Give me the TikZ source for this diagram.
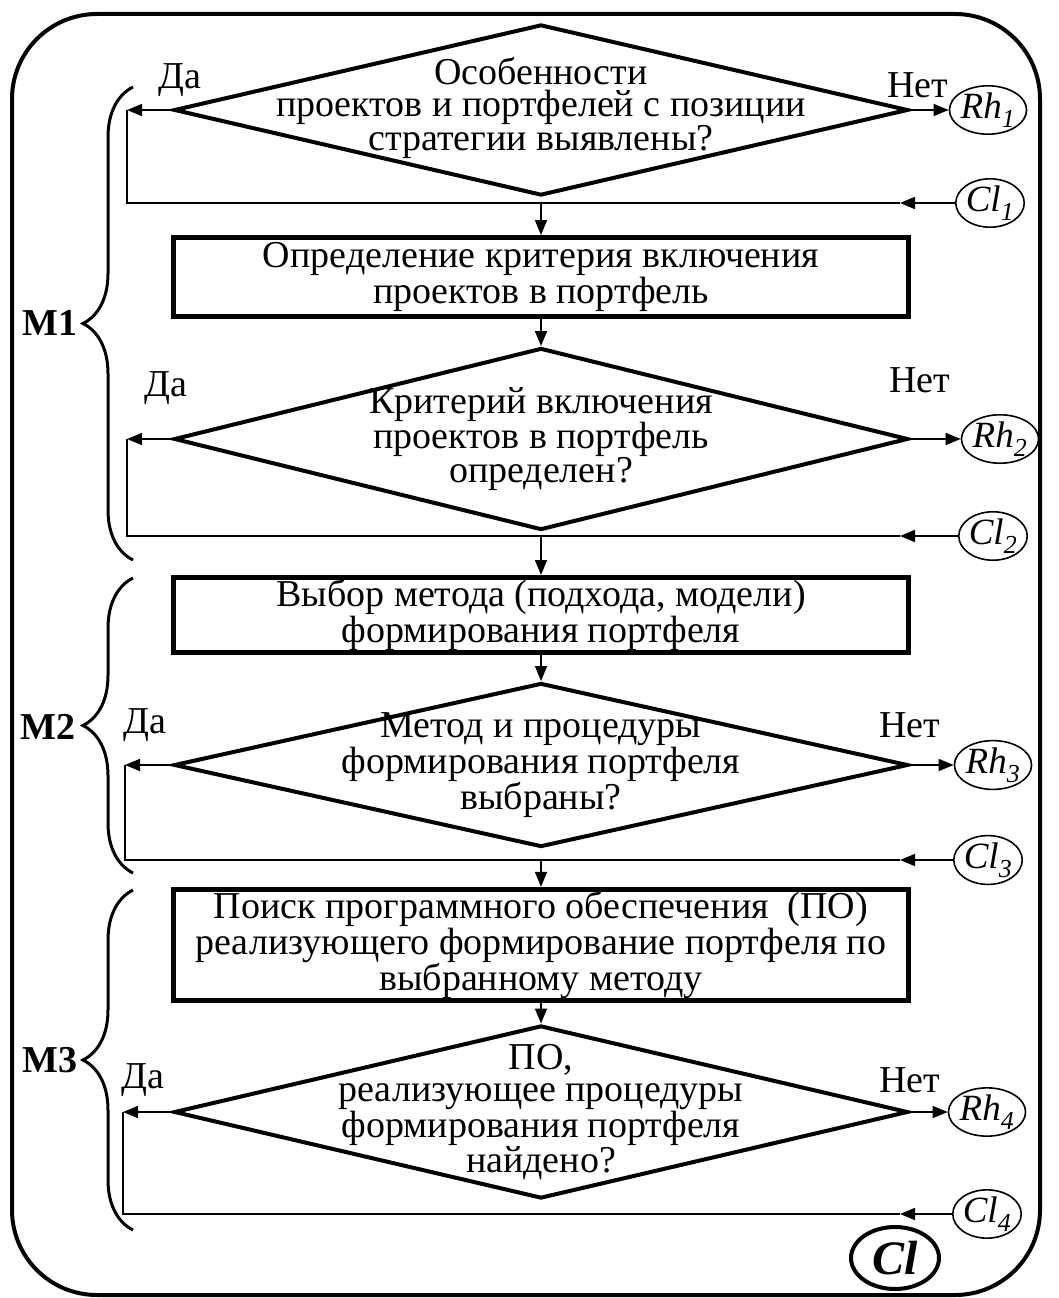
\documentclass[tikz,border=0pt]{standalone}
\usepackage{fontspec}
\setmainfont{Liberation Serif}
\usetikzlibrary{arrows.meta, shapes.geometric, decorations.pathreplacing}
\newcommand\bigfont{\fontsize{38}{32}\selectfont}
\tikzset{
  cond/.style={draw, diamond, line width=4pt, inner sep=0pt,
               minimum width=734pt, minimum height=#1},
  act/.style={draw, rectangle, line width=5pt, inner sep=2pt,
              minimum width=735pt, minimum height=#1, align=center},
  txt/.style={align=center},
  term/.style={draw, ellipse, line width=1.6pt, inner sep=0pt,
               minimum width=68pt, minimum height=48pt, font=\fontsize{37}{31}\selectfont\itshape},
  flow/.style={line width=1.6pt},
  arr/.style={flow, -{Triangle[length=15pt, width=12pt]}},
  brc/.style={decorate, decoration={brace, amplitude=50pt}, line width=3pt},
  mlab/.style={font=\bigfont\bfseries},
}

\begin{document}
\begin{tikzpicture}[x=1pt, y=-1pt, font=\bigfont]
  \useasboundingbox (0,0) rectangle (1059,1298);
  % outer frame
  \draw[line width=4pt, rounded corners=85pt] (12,14) rectangle (1040,1295);

  % decisions and actions
  \node[cond=171pt] (d1) at (541,110) {};
  \node[txt] (q1) at (541,108) {Особенности\\проектов и портфелей с позиции\\стратегии выявлены?};
  \node[act=79pt] (b1) at (541,277) {Определение критерия включения\\проектов в портфель};
  \node[cond=182pt] (d2) at (541,439) {};
  \node[txt] (q2) at (d2) {Критерий включения\\проектов в портфель\\определен?};
  \node[act=75pt] (b2) at (541,615) {Выбор метода (подхода, модели)\\формирования портфеля};
  \node[cond=164pt] (d3) at (541,765) {};
  \node[txt] (q3) at (d3) {Метод и процедуры\\формирования портфеля\\выбраны?};
  \node[act=104pt] (b3) at (541,945) {Поиск программного обеспечения\ \ (ПО)\\реализующего формирование портфеля по\\выбранному методу};
  \node[cond=173pt] (d4) at (541,1112) {};
  \node[txt] (q4) at (d4) {ПО,\\реализующее процедуры\\формирования портфеля\\найдено?};

  % yes / no labels
  \node (da1) at (180,80) {Да};
  \node (net1) at (918,85) {Нет};
  \node (da2) at (166,388) {Да};
  \node (net2) at (920,380) {Нет};
  \node (da3) at (145,725) {Да};
  \node (net3) at (910,725) {Нет};
  \node (da4) at (143,1080) {Да};
  \node (net4) at (910,1080) {Нет};

  % Rh and Cl terminals
  \node[term] (rh1) at (988,110) {Rh\textsubscript{1}};
  \node[term] (rh2) at (1000,439) {Rh\textsubscript{2}};
  \node[term] (rh3) at (993,765) {Rh\textsubscript{3}};
  \node[term] (rh4) at (987,1112) {Rh\textsubscript{4}};
  \node[term] (cl1) at (990,203) {Cl\textsubscript{1}};
  \node[term] (cl2) at (993,536) {Cl\textsubscript{2}};
  \node[term] (cl3) at (988,860) {Cl\textsubscript{3}};
  \node[term] (cl4) at (987,1214) {Cl\textsubscript{4}};
  \node[draw, ellipse, line width=4pt, inner sep=0pt, minimum width=88pt, minimum height=62pt,
        font=\fontsize{48}{48}\selectfont\bfseries\itshape] (cl) at (895,1258) {Cl};

  % exits and return lines
  \foreach \i/\lx/\dy/\cy in {1/127/110/203, 2/127/439/536, 3/125/765/860, 4/123/1112/1214} {
    \coordinate (y\i) at (\lx,\dy);
    \coordinate (j\i) at (\lx,\cy);
    \coordinate (m\i) at (900,\cy);
    \draw[arr] (d\i.west) -- (y\i);
    \draw[arr] (d\i.east) -- (rh\i);
    \draw[arr] (cl\i) -- (m\i);
    \draw[flow] (m\i) -- (j\i) -- (y\i);
  }

  % main flow
  \draw[arr] (b1.north |- j1) -- (b1);
  \draw[arr] (b1) -- (d2);
  \draw[arr] (b2.north |- j2) -- (b2);
  \draw[arr] (b2) -- (d3);
  \draw[arr] (b3.north |- j3) -- (b3);
  \draw[arr] (b3) -- (d4);

  % modules
  \draw[brc] (133,560) -- (133,87);
  \draw[brc] (133,873) -- (133,578);
  \draw[brc] (133,1230) -- (133,890);
  \node[mlab] (mod1) at (50,323) {М1};
  \node[mlab] (mod2) at (48,727) {М2};
  \node[mlab] (mod3) at (50,1060) {М3};
\end{tikzpicture}
\end{document}
